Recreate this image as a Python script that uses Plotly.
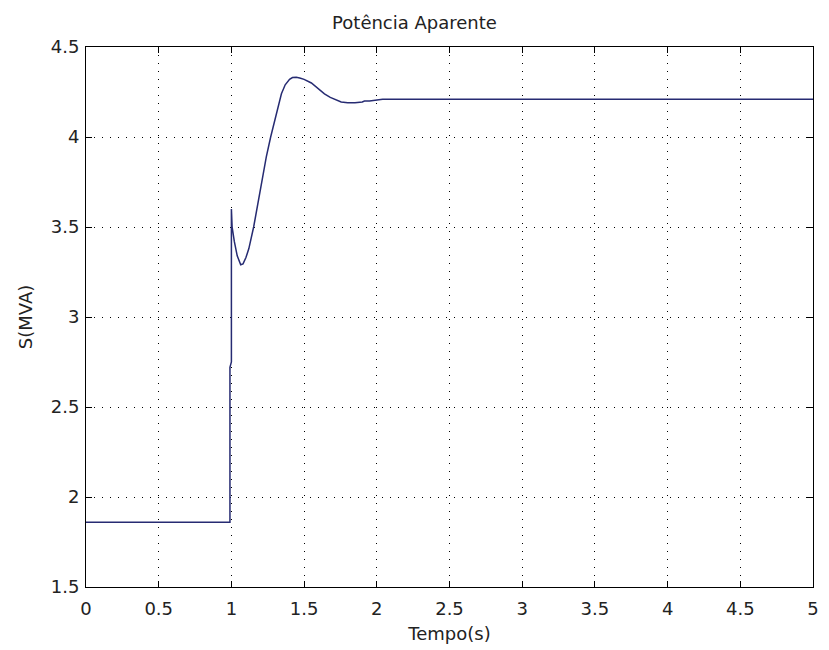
import plotly.graph_objects as go

# Time (s) and apparent power S (MVA)
tempo = [0.0, 0.5, 0.99, 0.99, 1.0, 1.0, 1.005, 1.02, 1.04, 1.064, 1.08, 1.10,
         1.12, 1.153, 1.18, 1.21, 1.24, 1.27, 1.30, 1.32, 1.344, 1.37, 1.40,
         1.42, 1.446, 1.47, 1.50, 1.55, 1.60, 1.64, 1.68, 1.71, 1.755, 1.80,
         1.85, 1.90, 1.915, 1.95, 2.04, 2.5, 3.0, 4.0, 5.0]
s_mva = [1.86, 1.86, 1.86, 2.72, 2.75, 3.60, 3.50, 3.42, 3.34, 3.29, 3.295, 3.33,
         3.38, 3.50, 3.62, 3.76, 3.89, 4.00, 4.10, 4.17, 4.24, 4.29, 4.32,
         4.33, 4.332, 4.328, 4.32, 4.30, 4.265, 4.24, 4.22, 4.21, 4.195, 4.19,
         4.19, 4.195, 4.20, 4.20, 4.21, 4.21, 4.21, 4.21, 4.21]

x_ticks = [0, 0.5, 1, 1.5, 2, 2.5, 3, 3.5, 4, 4.5, 5]
x_ticklabels = ["0", "0.5", "1", "1.5", "2", "2.5", "3", "3.5", "4", "4.5", "5"]
y_ticks = [1.5, 2, 2.5, 3, 3.5, 4, 4.5]
y_ticklabels = ["1.5", "2", "2.5", "3", "3.5", "4", "4.5"]

font_family = "DejaVu Sans, sans-serif"
txt_color = "#222"

fig = go.Figure()
fig.add_trace(go.Scatter(x=tempo, y=s_mva, mode="lines",
                         line=dict(color="#262b72", width=1.5),
                         showlegend=False, hoverinfo="skip"))

axis_common = dict(showline=True, linecolor="black", linewidth=1, mirror="ticks",
                   ticks="inside", ticklen=6, tickcolor="black",
                   showgrid=True, gridcolor="black", gridwidth=1,
                   griddash="1px,7px",
                   zeroline=False,
                   tickfont=dict(family=font_family, size=18, color=txt_color))

fig.update_xaxes(range=[0, 5], tickvals=x_ticks, ticktext=x_ticklabels,
                 ticklabelstandoff=5,
                 title=dict(text="Tempo(s)", standoff=9,
                            font=dict(family=font_family, size=18, color=txt_color)),
                 **axis_common)
fig.update_yaxes(range=[1.5, 4.5], tickvals=y_ticks, ticktext=y_ticklabels,
                 ticklabelstandoff=2,
                 title=dict(text="S(MVA)", standoff=13,
                            font=dict(family=font_family, size=18, color=txt_color)),
                 **axis_common)

fig.update_layout(
    width=829, height=650,
    margin=dict(l=86, r=10, t=47, b=61),
    paper_bgcolor="white", plot_bgcolor="white",
    title=dict(text="Potência Aparente", x=0.5, xanchor="center",
               y=1 - 23 / 650, yanchor="middle",
               font=dict(family=font_family, size=18, color=txt_color)),
)

fig.write_html("out.html")
